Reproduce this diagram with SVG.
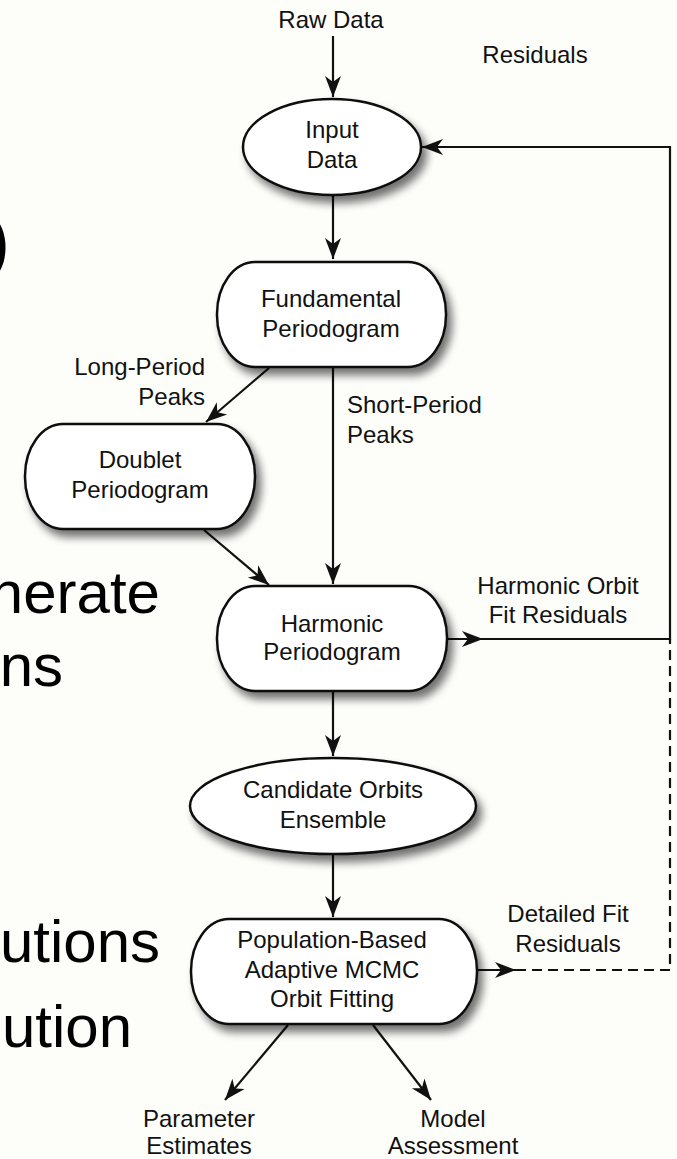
<svg xmlns="http://www.w3.org/2000/svg" width="677" height="1159" viewBox="0 0 677 1159">
  <style>
    text { font-family: "Liberation Sans", Arial, Helvetica, sans-serif; fill: #111; }
    .t { font-size: 24px; text-anchor: middle; }
    .big { font-size: 60px; text-anchor: end; fill: #000; }
    .shape { fill: #ffffff; stroke: #111; stroke-width: 2.5; filter: url(#shadow); }
    .conn { fill: none; stroke: #111; stroke-width: 2.2; }
    .dash { stroke-dasharray: 10 6; }
  </style>
  <defs>
    <filter id="shadow" x="-20%" y="-20%" width="150%" height="160%">
      <feGaussianBlur in="SourceAlpha" stdDeviation="4"/>
      <feOffset dx="5" dy="7" result="b"/>
      <feComponentTransfer><feFuncA type="linear" slope="0.55"/></feComponentTransfer>
      <feMerge><feMergeNode/><feMergeNode in="SourceGraphic"/></feMerge>
    </filter>
    <marker id="arrow" viewBox="-22 -10 24 20" refX="0" refY="0" markerWidth="24" markerHeight="20" markerUnits="userSpaceOnUse" orient="auto">
      <path d="M0,0 L-21,-8 L-15,0 L-21,8 Z" fill="#111"/>
    </marker>
  </defs>
  <rect width="677" height="1159" fill="#fdfdfa"/>

  <g id="slide-text">
    <text class="big" x="10" y="266" style="font-size:72px">)</text>
    <text class="big" x="160" y="613">nerate</text>
    <text class="big" x="63" y="686">ns</text>
    <text class="big" x="160" y="962">utions</text>
    <text class="big" x="132" y="1047">ution</text>
  </g>

  <g id="connectors">
    <line class="conn" x1="333" y1="36" x2="333" y2="97" marker-end="url(#arrow)"/>
    <line class="conn" x1="333" y1="195" x2="333" y2="259" marker-end="url(#arrow)"/>
    <line class="conn" x1="269" y1="368" x2="206" y2="422" marker-end="url(#arrow)"/>
    <line class="conn" x1="333" y1="368" x2="333" y2="584" marker-end="url(#arrow)"/>
    <line class="conn" x1="204" y1="530" x2="269" y2="585" marker-end="url(#arrow)"/>
    <line class="conn" x1="447" y1="639" x2="483" y2="639" marker-end="url(#arrow)"/>
    <path class="conn" d="M483,639 H670 V147 H422" marker-end="url(#arrow)"/>
    <line class="conn" x1="333" y1="691" x2="333" y2="756" marker-end="url(#arrow)"/>
    <line class="conn" x1="333" y1="855" x2="333" y2="917" marker-end="url(#arrow)"/>
    <line class="conn" x1="477" y1="970" x2="516" y2="970" marker-end="url(#arrow)"/>
    <path class="conn dash" d="M516,970 H670 V639"/>
    <line class="conn" x1="288" y1="1025" x2="225" y2="1100" marker-end="url(#arrow)"/>
    <line class="conn" x1="373" y1="1025" x2="431" y2="1100" marker-end="url(#arrow)"/>
  </g>

  <g id="labels">
    <text class="t" x="331" y="28">Raw Data</text>
    <text class="t" x="535" y="63">Residuals</text>
    <text class="t" x="205" y="375" style="text-anchor:end">Long-Period</text>
    <text class="t" x="205" y="405" style="text-anchor:end">Peaks</text>
    <text class="t" x="347" y="413" style="text-anchor:start">Short-Period</text>
    <text class="t" x="347" y="443" style="text-anchor:start">Peaks</text>
    <text class="t" x="558" y="594">Harmonic Orbit</text>
    <text class="t" x="558" y="623">Fit Residuals</text>
    <text class="t" x="568" y="922">Detailed Fit</text>
    <text class="t" x="568" y="952">Residuals</text>
    <text class="t" x="199" y="1127">Parameter</text>
    <text class="t" x="199" y="1154">Estimates</text>
    <text class="t" x="453" y="1127">Model</text>
    <text class="t" x="453" y="1154">Assessment</text>
  </g>

  <g id="input-data">
    <ellipse class="shape" cx="332" cy="147" rx="89" ry="48"/>
    <text class="t" x="332" y="138">Input</text>
    <text class="t" x="332" y="168">Data</text>
  </g>

  <g id="fundamental-periodogram">
    <rect class="shape" x="217" y="262" width="229" height="105" rx="38" ry="52"/>
    <text class="t" x="331" y="307">Fundamental</text>
    <text class="t" x="331" y="337">Periodogram</text>
  </g>

  <g id="doublet-periodogram">
    <rect class="shape" x="25" y="424" width="230" height="105" rx="38" ry="52"/>
    <text class="t" x="140" y="468">Doublet</text>
    <text class="t" x="140" y="498">Periodogram</text>
  </g>

  <g id="harmonic-periodogram">
    <rect class="shape" x="217" y="586" width="230" height="105" rx="38" ry="52"/>
    <text class="t" x="332" y="632">Harmonic</text>
    <text class="t" x="332" y="660">Periodogram</text>
  </g>

  <g id="candidate-orbits">
    <ellipse class="shape" cx="333" cy="806" rx="143" ry="48"/>
    <text class="t" x="333" y="798">Candidate Orbits</text>
    <text class="t" x="333" y="828">Ensemble</text>
  </g>

  <g id="mcmc-fitting">
    <rect class="shape" x="191" y="919" width="286" height="105" rx="38" ry="52"/>
    <text class="t" x="332" y="948">Population-Based</text>
    <text class="t" x="332" y="978">Adaptive MCMC</text>
    <text class="t" x="332" y="1007">Orbit Fitting</text>
  </g>
</svg>
